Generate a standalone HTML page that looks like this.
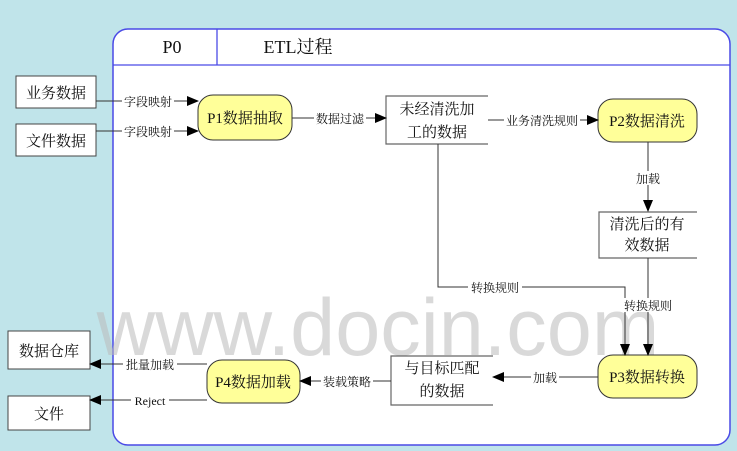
<!DOCTYPE html>
<html><head><meta charset="utf-8"><style>
html,body{margin:0;padding:0;background:#c0e4ea;}
svg{display:block;}
text{font-family:"Liberation Serif","Noto Serif CJK SC","Noto Sans CJK SC",serif;fill:#111;}
</style></head><body>
<svg width="737" height="451" viewBox="0 0 737 451" xmlns="http://www.w3.org/2000/svg">
<defs>
<marker id="a" markerWidth="12" markerHeight="10" refX="11" refY="5" orient="auto" markerUnits="userSpaceOnUse">
<path d="M0,0 L12,5 L0,10 z" fill="#000"/></marker>
</defs>
<rect width="737" height="451" fill="#c0e4ea"/>
<rect x="113" y="29" width="617" height="416" rx="15" fill="#fff" stroke="#4a4ae6" stroke-width="1.5"/>
<line x1="113" y1="65" x2="730" y2="65" stroke="#4a4ae6" stroke-width="1.3"/>
<line x1="217" y1="29" x2="217" y2="65" stroke="#4a4ae6" stroke-width="1.3"/>
<text x="172" y="53" font-size="18" text-anchor="middle">P0</text>
<text x="298" y="53" font-size="18" text-anchor="middle">ETL过程</text>

<text x="378" y="355" font-size="81" text-anchor="middle" style="font-family:'Liberation Sans',sans-serif;fill:#bbb;opacity:0.55">www.docin.com</text>

<g stroke="#444" stroke-width="1" fill="#fff">
<rect x="16" y="76" width="80" height="32"/>
<rect x="16" y="124" width="80" height="32"/>
<rect x="8" y="331" width="82" height="38"/>
<rect x="8" y="396" width="82" height="34"/>
</g>
<g font-size="15" text-anchor="middle">
<text x="56" y="98">业务数据</text>
<text x="56" y="146">文件数据</text>
<text x="49" y="356">数据仓库</text>
<text x="49" y="419">文件</text>
</g>

<g fill="#ffff99" stroke="#333" stroke-width="1">
<rect x="198" y="95" width="94" height="45" rx="15"/>
<rect x="598" y="99" width="99" height="43" rx="15"/>
<rect x="598" y="355" width="99" height="43" rx="15"/>
<rect x="207" y="360" width="93" height="43" rx="15"/>
</g>
<g font-size="15" text-anchor="middle">
<text x="245" y="123">P1数据抽取</text>
<text x="647" y="126">P2数据清洗</text>
<text x="647" y="382">P3数据转换</text>
<text x="253" y="387">P4数据加载</text>
</g>

<g stroke="#666" stroke-width="1.2" fill="none">
<path d="M488,96 H386 V144 H488"/>
<path d="M697,212 H599 V258 H697"/>
<path d="M493,356 H391 V405 H493"/>
</g>
<g font-size="15" text-anchor="middle">
<text x="437" y="114">未经清洗加</text>
<text x="437" y="137">工的数据</text>
<text x="647" y="229">清洗后的有</text>
<text x="647" y="250">效数据</text>
<text x="442" y="373">与目标匹配</text>
<text x="442" y="396">的数据</text>
</g>

<g stroke="#333" stroke-width="1" fill="none" marker-end="url(#a)">
<line x1="96" y1="101" x2="198" y2="101"/>
<line x1="96" y1="131" x2="198" y2="131"/>
<line x1="292" y1="118" x2="386" y2="118"/>
<line x1="488" y1="120" x2="598" y2="120"/>
<line x1="648" y1="142" x2="648" y2="211"/>
<line x1="648" y1="258" x2="648" y2="355"/>
<path d="M438,144 V287 H625 V355"/>
<line x1="598" y1="377" x2="493" y2="377"/>
<line x1="391" y1="381" x2="300" y2="381"/>
<line x1="207" y1="364" x2="90" y2="364"/>
<line x1="207" y1="400" x2="90" y2="400"/>
</g>

<g font-size="12" text-anchor="middle">
<g fill="#fff" stroke="none">
<rect x="122" y="94" width="52" height="14"/>
<rect x="122" y="124" width="52" height="14"/>
<rect x="314" y="111" width="52" height="14"/>
<rect x="504" y="113" width="76" height="14"/>
<rect x="634" y="171" width="28" height="14"/>
<rect x="621" y="298" width="54" height="14"/>
<rect x="468" y="280" width="54" height="14"/>
<rect x="531" y="370" width="28" height="14"/>
<rect x="321" y="374" width="52" height="14"/>
<rect x="123" y="357" width="54" height="14"/>
<rect x="131" y="393" width="38" height="14"/>
</g>
<text x="148" y="106">字段映射</text>
<text x="148" y="136">字段映射</text>
<text x="340" y="123">数据过滤</text>
<text x="542" y="125">业务清洗规则</text>
<text x="648" y="183">加载</text>
<text x="648" y="310">转换规则</text>
<text x="495" y="292">转换规则</text>
<text x="545" y="382">加载</text>
<text x="347" y="386">装载策略</text>
<text x="150" y="369">批量加载</text>
<text x="150" y="405">Reject</text>
</g>
</svg>
</body></html>
